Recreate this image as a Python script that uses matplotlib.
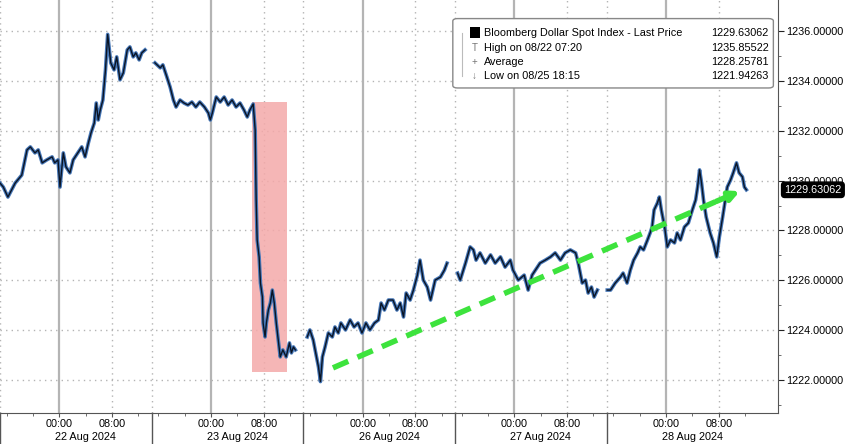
import numpy as np
import matplotlib
matplotlib.use('Agg')
import matplotlib.pyplot as plt
import matplotlib.transforms as mtransforms
from matplotlib.patches import Rectangle, FancyBboxPatch

plt.rcParams['font.family'] = ['Liberation Sans', 'DejaVu Sans']

# trading sessions, hours relative to that day's 00:00
day_labels = ['22 Aug 2024', '23 Aug 2024', '26 Aug 2024', '27 Aug 2024', '28 Aug 2024']

aug22_t = [-9.0, -8.5, -7.8, -6.7, -5.7, -4.9, -4.4, -3.7, -3.2, -2.6, -1.9, -1.1, -0.7, -0.2, 0.1,
           0.6, 1.0, 1.6, 2.1, 2.8, 3.4, 3.9, 4.4, 4.8, 5.3, 5.6, 5.9, 6.2, 6.6, 7.0, 7.33, 7.8, 8.3,
           8.7, 9.2, 9.7, 10.3, 10.7, 11.2, 11.6, 12.1, 12.5, 13.0]
aug22_p = [1229.90, 1229.74, 1229.34, 1229.90, 1230.22, 1231.23, 1231.35, 1231.11, 1231.23, 1230.71,
           1230.83, 1230.95, 1230.71, 1230.83, 1229.74, 1231.11, 1230.55, 1230.31, 1230.83, 1231.11,
           1231.35, 1230.95, 1231.51, 1231.91, 1232.31, 1233.11, 1232.43, 1232.83, 1233.23, 1234.44,
           1235.86, 1234.72, 1234.44, 1234.96, 1234.04, 1234.32, 1235.24, 1235.36, 1234.96, 1235.12,
           1234.84, 1235.12, 1235.24]

aug23_t = [-8.5, -7.7, -7.3, -6.7, -6.2, -5.7, -5.3, -4.7, -4.1, -3.5, -2.9, -2.3, -1.7, -1.0, -0.4,
           -0.1, 0.2, 0.8, 1.4, 2.0, 2.6, 3.2, 3.8, 4.4, 5.0, 5.5, 5.9, 6.4, 6.7, 6.85, 7.0, 7.3, 7.5,
           7.8, 7.9, 8.2, 8.4, 8.7, 9.0, 9.3, 9.6, 9.9, 10.2, 10.5, 10.9, 11.4, 11.9, 12.2, 12.5, 12.8]
aug23_p = [1234.72, 1234.52, 1234.64, 1234.16, 1233.75, 1233.23, 1232.95, 1233.23, 1233.11, 1233.03,
           1233.15, 1232.95, 1233.15, 1232.95, 1232.71, 1232.43, 1232.71, 1233.35, 1233.15, 1233.35,
           1233.03, 1233.23, 1232.95, 1233.11, 1232.83, 1232.55, 1232.83, 1233.07, 1232.03, 1229.22,
           1227.62, 1226.94, 1225.89, 1225.33, 1224.29, 1223.73, 1224.29, 1224.81, 1225.09, 1225.61,
           1225.09, 1224.29, 1223.61, 1222.93, 1223.21, 1222.93, 1223.49, 1223.09, 1223.33, 1223.21]

aug26_t = [-8.4, -8.0, -7.5, -7.0, -6.7, -6.4, -6.1, -5.7, -5.2, -4.6, -4.2, -3.7, -3.3, -2.6, -1.9,
           -1.3, -0.7, -0.1, 0.5, 1.1, 1.8, 2.4, 2.8, 3.3, 3.9, 4.6, 5.2, 5.7, 6.2, 6.6, 7.2, 7.7, 8.3,
           8.7, 9.2, 9.8, 10.3, 11.0, 11.8, 12.4, 12.8]
aug26_p = [1223.73, 1224.01, 1223.61, 1222.93, 1222.53, 1221.94, 1222.93, 1223.33, 1223.89, 1223.73,
           1224.13, 1223.89, 1224.29, 1224.01, 1224.41, 1224.13, 1224.29, 1223.89, 1224.29, 1224.01,
           1224.29, 1224.41, 1225.09, 1224.81, 1225.21, 1225.21, 1224.81, 1225.09, 1224.53, 1225.49,
           1225.21, 1225.61, 1226.21, 1226.81, 1226.01, 1225.73, 1225.21, 1226.01, 1226.13, 1226.41,
           1226.69]

aug27_t = [-8.6, -8.2, -7.4, -6.7, -6.2, -5.8, -5.2, -4.4, -3.6, -2.9, -2.1, -1.4, -0.6, -0.2, 0.6,
           1.5, 2.1, 2.7, 3.2, 3.9, 4.7, 5.5, 6.2, 7.0, 7.7, 8.5, 9.3, 9.7, 10.3, 10.8, 11.2, 11.7,
           12.1, 12.6]
aug27_p = [1226.29, 1226.01, 1226.69, 1227.34, 1227.22, 1226.81, 1227.10, 1226.69, 1227.02, 1226.69,
           1226.94, 1226.53, 1226.81, 1226.41, 1226.01, 1226.21, 1225.61, 1226.21, 1226.41, 1226.69,
           1226.81, 1226.94, 1227.10, 1226.81, 1227.10, 1227.22, 1227.10, 1226.69, 1225.89, 1226.01,
           1225.49, 1225.73, 1225.33, 1225.61]

aug28_t = [-8.9, -8.4, -7.7, -6.9, -6.5, -5.9, -5.4, -4.9, -4.3, -3.9, -3.4, -2.8, -2.4, -2.1, -1.8,
           -1.3, -1.0, -0.7, -0.2, 0.2, 0.7, 1.3, 1.7, 2.2, 2.8, 3.4, 4.0, 4.5, 4.8, 5.1, 5.4, 5.7,
           6.1, 6.7, 7.2, 7.7, 8.1, 8.6, 9.0, 9.3, 9.8, 10.2, 10.7, 11.1, 11.6, 11.9, 12.2]
aug28_p = [1225.61, 1225.61, 1225.89, 1226.13, 1226.29, 1225.89, 1226.41, 1226.81, 1227.10, 1227.34,
           1227.22, 1227.62, 1227.90, 1228.14, 1228.82, 1229.10, 1229.34, 1228.82, 1228.14, 1227.34,
           1227.62, 1227.50, 1227.90, 1227.62, 1228.14, 1228.30, 1228.82, 1229.22, 1229.74, 1230.43,
           1229.90, 1229.22, 1228.54, 1227.90, 1227.50, 1226.94, 1227.74, 1228.54, 1229.22, 1229.74,
           1230.02, 1230.31, 1230.71, 1230.31, 1230.15, 1229.74, 1229.63]

sessions_t = [aug22_t, aug23_t, aug26_t, aug27_t, aug28_t]
sessions_p = [aug22_p, aug23_p, aug26_p, aug27_p, aug28_p]

# highlighted sell-off box (day 23 Aug, hours from midnight) and trend arrow (day 26 -> day 28)
box_t = [6.2, 11.6]
box_p = [1222.33, 1233.15]
trend_start = (2, -4.5, 1222.49)
trend_end = (4, 11.6, 1229.62)

legend_rows = [('Bloomberg Dollar Spot Index - Last Price', '1229.63062'),
               ('High on 08/22 07:20', '1235.85522'),
               ('Average', '1228.25781'),
               ('Low on 08/25 18:15', '1221.94263')]
last_price = 1229.63062

DAY_LEN = 23      # session length on the chart (hours)
MID0 = 9          # position of first 00:00


def xpos(day, t):
    return MID0 + DAY_LEN * day + np.asarray(t, dtype=float)


fig = plt.figure(figsize=(8.48, 4.44), dpi=100)
ax = fig.add_axes([0.0, 0.0698, 0.9175, 0.9302])
ax.set_xlim(0, 118)
ax.set_ylim(1220.68, 1237.24)

# grid
for k in range(len(day_labels)):
    ax.axvline(xpos(k, 0), color='#b4b4b4', lw=1.6, zorder=1)
    ax.axvline(xpos(k, 8), color='#b4b4b4', lw=1.0, ls=(0, (1, 3)), zorder=1)
    ax.axvline(xpos(k, -9), color='#b4b4b4', lw=1.0, ls=(0, (1, 3)), zorder=1)
yt = np.arange(1222, 1237, 2)
for y in yt:
    ax.axhline(y, color='#b4b4b4', lw=1.0, ls=(0, (1, 3)), zorder=1)

# pink box
ax.add_patch(Rectangle((xpos(1, box_t[0]), box_p[0]), box_t[1] - box_t[0], box_p[1] - box_p[0],
                       facecolor='#f4a9a9', edgecolor='none', alpha=0.85, zorder=2))

# price line
for k in range(len(sessions_t)):
    x = xpos(k, sessions_t[k])
    ax.plot(x, sessions_p[k], color='#4677b8', lw=2.6, zorder=3, solid_joinstyle='round')
    ax.plot(x, sessions_p[k], color='#0a1424', lw=1.0, zorder=4)

# green dashed trend arrow
x0, y0 = xpos(trend_start[0], trend_start[1]), trend_start[2]
x1, y1 = xpos(trend_end[0], trend_end[1]), trend_end[2]
fr = 0.96
ax.plot([x0, x0 + (x1 - x0) * fr], [y0, y0 + (y1 - y0) * fr], color='#3de33d', lw=4,
        ls=(0, (3, 1.8)), zorder=5, solid_capstyle='butt', dash_capstyle='butt')
ax.annotate('', xy=(x1, y1), xytext=(x0 + (x1 - x0) * 0.93, y0 + (y1 - y0) * 0.93),
            arrowprops=dict(arrowstyle='-|>', color='#3de33d', lw=4, mutation_scale=14), zorder=5)

# axes style
for s in ['left', 'top']:
    ax.spines[s].set_visible(False)
ax.spines['right'].set_color('#555555')
ax.spines['bottom'].set_color('#555555')
ax.yaxis.tick_right()
ax.set_yticks(yt)
ax.set_yticklabels(['%.5f' % v for v in yt], fontsize=7.8)
ax.set_yticks(np.arange(1221, 1237, 2), minor=True)
ax.tick_params(axis='y', which='major', length=4, pad=2, color='#222222')
ax.tick_params(axis='y', which='minor', length=2, color='#555555')

xt, xl = [], []
for k in range(len(day_labels)):
    xt += [xpos(k, 0), xpos(k, 8)]
    xl += ['00:00', '08:00']
ax.set_xticks(xt)
ax.set_xticklabels(xl, fontsize=7.8)
ax.set_xticks([xpos(k, h) for k in range(5) for h in (-8, -4, 4, 12)], minor=True)
ax.tick_params(axis='x', which='major', length=3, pad=1, color='#555555')
ax.tick_params(axis='x', which='minor', length=2, color='#555555')

trans = mtransforms.blended_transform_factory(ax.transData, ax.transAxes)
for k, lab in enumerate(day_labels):
    ax.text(xpos(k, 4), -0.058, lab, transform=trans, ha='center', va='center', fontsize=7.8)
    ax.plot([xpos(k, -9), xpos(k, -9)], [0, -0.09], transform=trans, color='#555555', lw=1,
            clip_on=False)

# last price tag
ytr = mtransforms.blended_transform_factory(ax.transAxes, ax.transData)
ax.text(1.008, last_price, '%.5f' % last_price, transform=ytr, ha='left', va='center', fontsize=7.8,
        color='white', bbox=dict(boxstyle='round,pad=0.25,rounding_size=0.3', fc='black', ec='black'),
        zorder=10, clip_on=False)

# legend box
ax.add_patch(FancyBboxPatch((0.582, 0.787), 0.412, 0.168, boxstyle='round,pad=0,rounding_size=0.006',
                            transform=ax.transAxes, facecolor='white', edgecolor='#888888', lw=1.0,
                            zorder=8))
rows_y = [0.920, 0.884, 0.850, 0.816]
ax.add_patch(Rectangle((0.604, rows_y[0] - 0.012), 0.013, 0.026, transform=ax.transAxes,
                       facecolor='black', zorder=9))
ax.plot([0.594, 0.594], [rows_y[0], rows_y[3]], transform=ax.transAxes, color='#bbbbbb', lw=0.8,
        zorder=9)
for sym, yy in zip(['', 'T', '+', '↓'], rows_y):
    if sym:
        ax.text(0.61, yy, sym, transform=ax.transAxes, ha='center', va='center', fontsize=7,
                color='#777777', zorder=9)
for (lab, val), yy in zip(legend_rows, rows_y):
    ax.text(0.622, yy, lab, transform=ax.transAxes, ha='left', va='center', fontsize=7.8, zorder=9)
    ax.text(0.988, yy, val, transform=ax.transAxes, ha='right', va='center', fontsize=7.8, zorder=9)

fig.savefig('out.png', dpi=100)
